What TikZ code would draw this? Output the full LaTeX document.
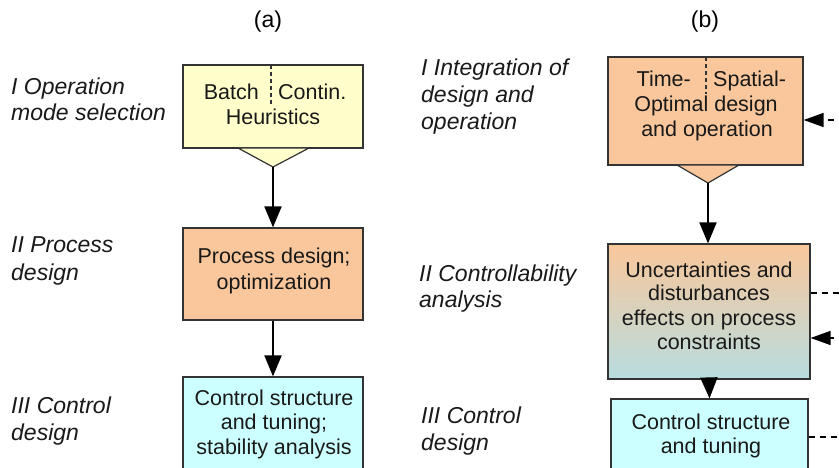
\documentclass[tikz,border=0pt]{standalone}
\usepackage{fontspec}
\setmainfont{Liberation Sans}
\usetikzlibrary{arrows.meta}
\definecolor{boxyellow}{HTML}{FFFFCC}
\definecolor{boxorange}{HTML}{F9C79B}
\definecolor{boxcyan}{HTML}{CCFFFF}
\definecolor{boxteal}{HTML}{B8DDE0}
\definecolor{edge}{HTML}{333333}
\tikzset{
  box/.style={draw=edge, line width=1.2pt, rectangle, inner sep=0pt},
  btxt/.style={font=\fontsize{21.5}{25}\selectfont, inner sep=0pt, text=black!90},
  lbl/.style={font=\fontsize{23}{27}\selectfont\itshape, inner sep=0pt, anchor=base west, text=black!90},
  hdr/.style={font=\fontsize{23}{27}\selectfont, inner sep=0pt, anchor=base},
  arr/.style={line width=2pt, -{Triangle[length=21pt,width=17pt]}},
  dasharr/.style={line width=1.3pt, dash pattern=on 6pt off 5pt, -{Triangle[length=20pt,width=14pt]}},
  dashln/.style={line width=1.3pt, dash pattern=on 6pt off 5pt},
  divider/.style={line width=1.2pt, draw=edge, dash pattern=on 4pt off 3pt}
}
\begin{document}
\begin{tikzpicture}[x=1pt,y=-1pt]
\useasboundingbox (0,0) rectangle (839,468);
\clip (0,0) rectangle (839,468);

% headers
\node[hdr] (ha) at (268,28) {(a)};
\node[hdr] (hb) at (705,28) {(b)};

% left labels
\node[lbl] (la1) at (11,95) {I Operation};
\node[lbl] (la2) at (11,121) {mode selection};
\node[lbl] (la3) at (11,253) {II Process};
\node[lbl] (la4) at (11,280) {design};
\node[lbl] (la5) at (11,413) {III Control};
\node[lbl] (la6) at (11,440) {design};

% right labels
\node[lbl] (lb1) at (421,76) {I Integration of};
\node[lbl] (lb2) at (421,103) {design and};
\node[lbl] (lb3) at (421,130) {operation};
\node[lbl] (lb4) at (419,281) {II Controllability};
\node[lbl] (lb5) at (419,307) {analysis};
\node[lbl] (lb6) at (421,423) {III Control};
\node[lbl] (lb7) at (421,450) {design};

% ---------- (a) ----------
\node[box, fill=boxyellow, minimum width=180pt, minimum height=83pt] (a1) at (273,106.5) {};
\filldraw[fill=boxyellow, draw=edge, line width=1.2pt, line join=miter] (238,148) -- (273,167) -- (309,148) -- cycle;
\coordinate (a1tip) at (273,167);
\coordinate (a1d) at (271,65);
\coordinate (a1e) at (271,104);
\draw[divider] (a1d) -- (a1e);
\node[btxt, anchor=base east] (a1t1) at (259,100) {Batch};
\node[btxt, anchor=base west] (a1t2) at (278,100) {Contin.};
\node[btxt, anchor=base] (a1t3) at (273,125) {Heuristics};

\node[box, fill=boxorange, minimum width=180pt, minimum height=92pt] (a2) at (273,274) {};
\node[btxt, anchor=base] (a2t1) at (274,264) {Process design;};
\node[btxt, anchor=base] (a2t2) at (274,289) {optimization};

\node[box, fill=boxcyan, minimum width=180pt, minimum height=110pt] (a3) at (273,432) {};
\node[btxt, anchor=base] (a3t1) at (274,405) {Control structure};
\node[btxt, anchor=base] (a3t2) at (274,429) {and tuning;};
\node[btxt, anchor=base] (a3t3) at (274,454) {stability analysis};

\draw[arr] (a1tip) -- (a2.north);
\draw[arr] (a2.south) -- (a3.north);

% ---------- (b) ----------
\node[box, fill=boxorange, minimum width=195pt, minimum height=108pt] (b1) at (705.5,111) {};
\filldraw[fill=boxorange, draw=edge, line width=1.2pt, line join=miter] (677,165) -- (708,183) -- (739,165) -- cycle;
\coordinate (b1tip) at (708,183);
\coordinate (b1d) at (706,57);
\coordinate (b1e) at (706,94);
\draw[divider] (b1d) -- (b1e);
\node[btxt, anchor=base east] (b1t1) at (691,87) {Time-};
\node[btxt, anchor=base west] (b1t2) at (713,87) {Spatial-};
\node[btxt, anchor=base] (b1t3) at (706,112) {Optimal design};
\node[btxt, anchor=base] (b1t4) at (707,137) {and operation};

\node[box, top color=boxorange, bottom color=boxteal, minimum width=202pt, minimum height=135pt] (b2) at (709,311.5) {};
\node[btxt, anchor=base] (b2t1) at (709,277) {Uncertainties and};
\node[btxt, anchor=base] (b2t2) at (709,301) {disturbances};
\node[btxt, anchor=base] (b2t3) at (709,325) {effects on process};
\node[btxt, anchor=base] (b2t4) at (709,349) {constraints};

\node[box, fill=boxcyan, minimum width=197pt, minimum height=90pt] (b3) at (709.5,444) {};
\node[btxt, anchor=base] (b3t1) at (711,429) {Control structure};
\node[btxt, anchor=base] (b3t2) at (711,453) {and tuning};

\draw[arr] (b1tip) -- (b1tip |- b2.north);
\draw[arr] (b2.south) -- (b3.north);

% dashed feedback connectors
\coordinate (e1) at (845,120);
\coordinate (e2) at (845,293);
\coordinate (e3) at (845,338);
\coordinate (e4) at (845,437);
\draw[dasharr] (e1) -- (b1.east |- e1);
\draw[dashln] (b2.east |- e2) -- (e2);
\draw[dasharr] (e3) -- (b2.east |- e3);
\draw[dashln] (b3.east |- e4) -- (e4);
\end{tikzpicture}
\end{document}
